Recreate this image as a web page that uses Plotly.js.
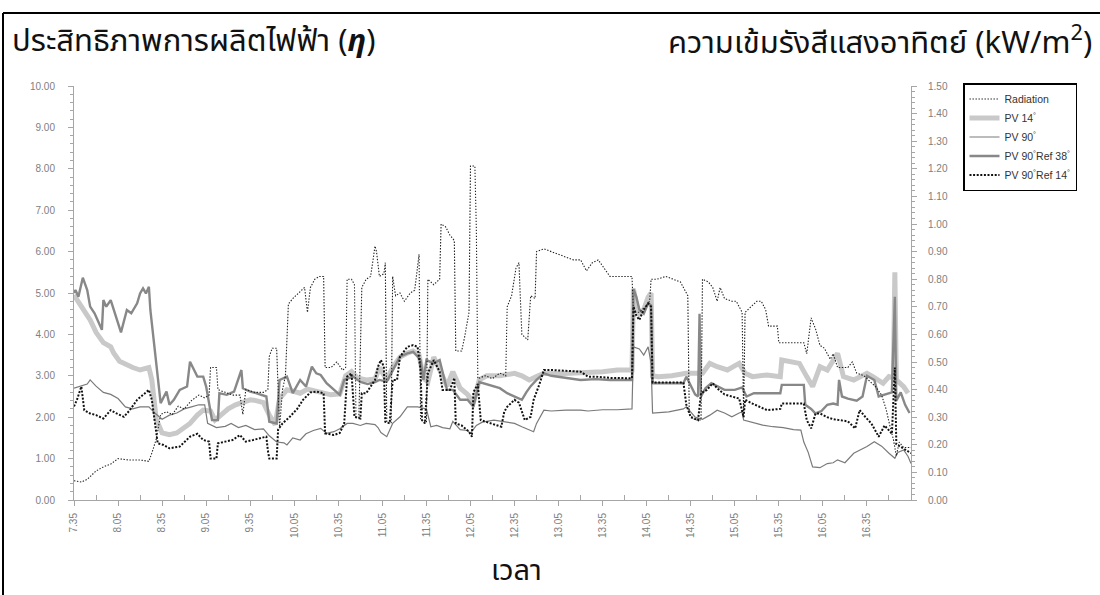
<!DOCTYPE html>
<html><head><meta charset="utf-8">
<script src="https://cdn.plot.ly/plotly-3.0.1.min.js"></script>
<style>html,body{margin:0;padding:0;background:#fff;} #chart{width:1100px;height:595px;}</style>
</head><body><div id="chart"></div>
<script>
// ---- tick labels (time of day) ----
const timeTicks = ['7.35','8.05','8.35','9.05','9.35','10.05','10.35','11.05','11.35','12.05','12.35','13.05','13.35','14.05','14.35','15.05','15.35','16.05','16.35'];

// ---- series: [time, value] ----
const radiation = [ // kW/m2 (right axis)
['7:35',0.07],['7:40',0.065],['7:44',0.075],['7:50',0.105],['7:55',0.12],['8:00',0.13],['8:05',0.15],['8:12',0.145],['8:20',0.145],['8:26',0.14],['8:28',0.17],['8:31',0.22],['8:34',0.31],['8:38',0.32],['8:42',0.31],['8:46',0.34],['8:50',0.33],['8:55',0.36],['9:00',0.38],['9:04',0.37],['9:07',0.38],['9:08',0.48],['9:12',0.48],['9:13',0.40],['9:18',0.39],['9:23',0.38],['9:28',0.38],['9:30',0.31],['9:32',0.40],['9:38',0.39],['9:44',0.39],['9:47',0.40],['9:48',0.52],['9:50',0.55],['9:53',0.55],['9:54',0.40],['9:55',0.26],['9:57',0.40],['9:59',0.45],['10:01',0.71],['10:04',0.73],['10:08',0.75],['10:12',0.77],['10:14',0.68],['10:16',0.77],['10:19',0.80],['10:22',0.81],['10:25',0.81],['10:26',0.48],['10:30',0.48],['10:34',0.50],['10:38',0.47],['10:40',0.48],['10:41',0.80],['10:44',0.80],['10:46',0.78],['10:47',0.30],['10:49',0.30],['10:51',0.77],['10:54',0.80],['10:57',0.81],['11:00',0.92],['11:01',0.90],['11:03',0.81],['11:06',0.82],['11:07',0.86],['11:08',0.28],['11:11',0.28],['11:12',0.81],['11:14',0.74],['11:17',0.75],['11:20',0.72],['11:24',0.75],['11:27',0.76],['11:30',0.89],['11:31',0.29],['11:35',0.28],['11:36',0.80],['11:40',0.78],['11:44',0.80],['11:45',1.00],['11:48',0.99],['11:51',0.96],['11:54',0.94],['11:55',0.54],['11:59',0.54],['12:01',0.59],['12:04',0.68],['12:05',1.21],['12:08',1.21],['12:09',0.98],['12:10',0.44],['12:15',0.45],['12:20',0.44],['12:25',0.46],['12:29',0.45],['12:30',0.70],['12:33',0.74],['12:36',0.84],['12:38',0.86],['12:40',0.60],['12:44',0.58],['12:46',0.74],['12:49',0.73],['12:50',0.90],['12:55',0.91],['13:00',0.90],['13:05',0.89],['13:10',0.88],['13:15',0.87],['13:20',0.87],['13:24',0.83],['13:28',0.86],['13:32',0.87],['13:36',0.84],['13:40',0.81],['13:45',0.81],['13:50',0.81],['13:55',0.81],['13:56',0.68],['14:00',0.68],['14:04',0.70],['14:07',0.72],['14:08',0.80],['14:12',0.80],['14:18',0.81],['14:23',0.80],['14:28',0.79],['14:31',0.76],['14:33',0.74],['14:34',0.31],['14:38',0.29],['14:42',0.29],['14:43',0.80],['14:47',0.79],['14:50',0.77],['14:53',0.72],['14:55',0.77],['14:58',0.73],['15:03',0.72],['15:06',0.72],['15:10',0.68],['15:11',0.31],['15:12',0.68],['15:16',0.70],['15:20',0.72],['15:23',0.72],['15:26',0.69],['15:28',0.63],['15:34',0.63],['15:35',0.57],['15:52',0.57],['15:54',0.53],['15:57',0.66],['16:00',0.62],['16:03',0.56],['16:06',0.55],['16:10',0.51],['16:12',0.53],['16:15',0.48],['16:22',0.48],['16:25',0.50],['16:28',0.46],['16:33',0.45],['16:37',0.43],['16:41',0.41],['16:45',0.38],['16:48',0.33],['16:51',0.26],['16:53',0.22],['16:55',0.16],['16:57',0.21],['17:00',0.19],['17:05',0.19]
];
const pv14 = [
['7:35',4.95],['7:38',4.8],['7:41',4.6],['7:46',4.35],['7:50',4.05],['7:55',3.8],['8:00',3.7],['8:02',3.55],['8:06',3.35],['8:11',3.25],['8:15',3.2],['8:20',3.14],['8:26',3.2],['8:28',2.9],['8:31',1.95],['8:35',1.62],['8:40',1.58],['8:45',1.62],['8:49',1.73],['8:54',1.85],['8:59',2.05],['9:03',2.17],['9:08',2.15],['9:11',1.93],['9:15',2.05],['9:20',2.2],['9:25',2.3],['9:30',2.37],['9:35',2.42],['9:39',2.4],['9:44',2.35],['9:48',2.05],['9:52',1.82],['9:55',2.45],['10:00',2.66],['10:05',2.62],['10:09',2.58],['10:14',2.68],['10:20',2.62],['10:25',2.58],['10:30',2.54],['10:36',2.56],['10:40',3.0],['10:44',3.1],['10:48',2.95],['10:54',2.9],['11:00',2.92],['11:03',3.2],['11:08',2.9],['11:12',3.2],['11:17',3.45],['11:22',3.55],['11:26',3.6],['11:30',3.5],['11:33',2.95],['11:36',2.85],['11:40',3.45],['11:44',3.15],['11:49',2.75],['11:53',3.1],['11:58',2.7],['12:03',2.55],['12:07',2.35],['12:11',2.9],['12:16',3.0],['12:25',3.0],['12:30',3.02],['12:35',3.06],['12:40',3.0],['12:45',2.9],['12:50',2.98],['12:55',3.06],['13:05',3.05],['13:20',3.06],['13:35',3.1],['13:45',3.14],['13:55',3.14],['13:56',5.1],['13:58',4.7],['14:00',4.5],['14:03',4.6],['14:06',4.9],['14:08',5.0],['14:09',3.0],['14:13',2.98],['14:22',3.0],['14:32',3.06],['14:43',3.06],['14:48',3.3],['14:53',3.22],['15:00',3.14],['15:04',3.22],['15:08',3.3],['15:12',3.06],['15:17',2.98],['15:27',3.02],['15:36',2.98],['15:37',3.38],['15:49',3.3],['15:54',2.98],['15:58',2.74],['16:03',3.22],['16:08',3.14],['16:15',3.54],['16:19',2.98],['16:26',2.9],['16:30',2.98],['16:35',3.06],['16:39',2.98],['16:46',2.82],['16:50',2.98],['16:53',2.95],['16:54',5.5],['16:55',2.9],['17:00',2.74],['17:03',2.58]
];
const pv90 = [
['7:35',2.7],['7:40',2.75],['7:44',2.8],['7:46',2.9],['7:50',2.75],['7:55',2.6],['8:00',2.55],['8:05',2.45],['8:10',2.25],['8:15',2.2],['8:20',2.25],['8:26',2.25],['8:30',2.1],['8:35',1.95],['8:40',2.05],['8:45',2.1],['8:50',2.2],['8:55',2.25],['9:00',2.3],['9:04',2.3],['9:06',1.85],['9:12',1.75],['9:18',1.78],['9:22',1.85],['9:27',1.75],['9:32',1.8],['9:38',1.7],['9:44',1.72],['9:48',1.55],['9:53',1.4],['9:58',1.38],['10:00',1.33],['10:04',1.5],['10:09',1.45],['10:13',1.6],['10:18',1.68],['10:23',1.73],['10:27',1.61],['10:32',1.65],['10:36',1.72],['10:41',1.85],['10:45',1.85],['10:50',1.8],['10:54',1.85],['11:00',1.82],['11:02',1.75],['11:04',1.63],['11:08',1.53],['11:12',1.85],['11:17',2.01],['11:22',2.25],['11:29',2.25],['11:35',2.2],['11:38',1.77],['11:42',1.8],['11:46',1.75],['11:51',1.72],['11:53',1.9],['11:58',1.7],['12:03',1.68],['12:05',1.61],['12:09',1.8],['12:13',1.88],['12:21',1.93],['12:30',1.88],['12:35',1.85],['12:40',1.77],['12:45',1.69],['12:48',1.65],['12:50',1.85],['12:55',2.17],['13:00',2.15],['13:10',2.17],['13:20',2.17],['13:25',2.15],['13:35',2.18],['13:45',2.18],['13:55',2.2],['13:56',3.7],['14:00',3.65],['14:03',3.5],['14:06',3.7],['14:08',3.3],['14:09',2.1],['14:20',2.13],['14:30',2.2],['14:32',2.25],['14:38',2.0],['14:43',1.95],['14:48',2.05],['14:53',2.17],['14:58',2.1],['15:03',2.01],['15:08',2.1],['15:10',2.13],['15:11',1.93],['15:16',1.88],['15:24',1.81],['15:31',1.77],['15:38',1.75],['15:45',1.7],['15:50',1.69],['15:52',1.4],['15:55',1.15],['15:58',0.8],['16:03',0.78],['16:08',0.88],['16:12',0.9],['16:15',0.97],['16:20',0.9],['16:26',1.13],['16:30',1.2],['16:35',1.29],['16:40',1.41],['16:45',1.3],['16:50',1.13],['16:54',1.01],['16:56',1.15],['17:00',1.21],['17:03',1.05],['17:05',0.88]
];
const pv90ref38 = [
['7:35',5.0],['7:36',5.07],['7:38',4.91],['7:41',5.37],['7:44',5.07],['7:46',4.67],['7:49',4.51],['7:54',4.11],['7:55',4.83],['7:57',4.67],['8:00',4.83],['8:02',4.59],['8:07',4.05],['8:11',4.59],['8:14',4.51],['8:18',4.75],['8:20',4.99],['8:22',5.11],['8:24',4.99],['8:26',5.15],['8:27',4.59],['8:34',2.34],['8:38',2.62],['8:40',2.3],['8:43',2.42],['8:47',2.66],['8:52',2.74],['8:54',3.34],['8:59',2.98],['9:03',2.98],['9:05',2.74],['9:09',1.93],['9:13',1.93],['9:14',2.58],['9:19',2.54],['9:24',2.62],['9:29',3.14],['9:30',2.7],['9:35',2.62],['9:39',2.58],['9:46',2.5],['9:48',1.89],['9:53',1.85],['9:55',2.9],['10:00',2.98],['10:04',2.58],['10:09',2.9],['10:13',2.74],['10:17',3.22],['10:20',3.06],['10:23',3.02],['10:27',2.82],['10:32',2.66],['10:36',2.54],['10:39',2.9],['10:45',2.98],['10:50',2.85],['10:55',2.8],['11:00',2.85],['11:03',2.9],['11:08',2.86],['11:12',3.14],['11:17',3.46],['11:22',3.54],['11:26',3.58],['11:31',3.38],['11:33',2.9],['11:35',3.38],['11:40',3.3],['11:44',3.38],['11:49',2.66],['11:53',2.66],['11:58',2.42],['12:03',2.42],['12:07',2.25],['12:11',2.85],['12:16',2.8],['12:21',2.74],['12:25',2.7],['12:30',2.58],['12:35',2.5],['12:40',2.42],['12:43',2.6],['12:46',2.75],['12:50',2.9],['12:55',3.06],['13:00',3.0],['13:10',2.95],['13:20',2.9],['13:30',2.92],['13:40',2.9],['13:55',2.9],['13:56',5.1],['13:58',4.9],['14:00',4.6],['14:03',4.5],['14:06',4.75],['14:08',4.7],['14:09',2.82],['14:20',2.82],['14:30',2.82],['14:32',2.98],['14:38',2.55],['14:40',2.5],['14:41',4.5],['14:42',2.5],['14:45',2.7],['14:49',2.82],['14:53',2.75],['14:58',2.66],['15:05',2.66],['15:10',2.72],['15:13',2.5],['15:18',2.58],['15:25',2.58],['15:30',2.58],['15:36',2.58],['15:37',2.78],['15:52',2.78],['15:53',2.3],['15:57',2.2],['16:00',2.09],['16:04',2.15],['16:08',2.3],['16:12',2.33],['16:15',2.3],['16:16',2.9],['16:18',2.5],['16:22',2.45],['16:28',2.4],['16:32',2.5],['16:35',3.0],['16:40',2.9],['16:43',2.5],['16:47',2.55],['16:52',2.6],['16:54',4.91],['16:55',2.4],['16:58',2.6],['17:01',2.3],['17:04',2.1]
];
const pv90ref14 = [
['7:35',2.26],['7:37',2.42],['7:40',2.74],['7:42',2.17],['7:46',2.09],['7:50',2.05],['7:55',1.97],['8:00',2.17],['8:04',2.09],['8:09',2.01],['8:13',2.17],['8:18',2.42],['8:22',2.54],['8:26',2.66],['8:28',2.42],['8:32',1.37],['8:36',1.33],['8:40',1.25],['8:47',1.29],['8:54',1.53],['8:59',1.6],['9:03',1.45],['9:07',1.41],['9:08',1.0],['9:12',1.0],['9:13',1.37],['9:18',1.41],['9:23',1.45],['9:28',1.57],['9:32',1.41],['9:37',1.45],['9:42',1.5],['9:46',1.53],['9:47',1.2],['9:48',1.0],['9:53',1.0],['9:54',1.7],['9:57',1.85],['10:02',2.01],['10:07',2.2],['10:11',2.42],['10:16',2.6],['10:20',2.62],['10:25',2.58],['10:26',1.61],['10:32',1.57],['10:36',1.62],['10:39',1.85],['10:41',2.98],['10:44',3.06],['10:46',2.01],['10:50',1.97],['10:51',2.58],['10:54',2.58],['11:00',2.9],['11:02',3.22],['11:04',3.38],['11:06',3.22],['11:07',1.89],['11:10',1.85],['11:12',2.9],['11:15',2.9],['11:17',3.46],['11:22',3.7],['11:26',3.74],['11:29',3.7],['11:31',3.14],['11:32',1.93],['11:34',1.85],['11:36',3.06],['11:40',3.38],['11:44',3.1],['11:46',2.66],['11:51',2.66],['11:54',2.95],['11:55',1.85],['11:59',1.8],['12:04',1.65],['12:06',1.53],['12:07',2.6],['12:10',2.8],['12:12',1.93],['12:16',1.88],['12:21',1.82],['12:26',1.77],['12:28',2.13],['12:30',2.25],['12:35',2.42],['12:38',2.35],['12:42',1.93],['12:46',2.01],['12:48',2.42],['12:52',2.8],['12:55',3.14],['13:00',3.14],['13:10',3.12],['13:20',3.1],['13:25',2.98],['13:30',2.98],['13:40',2.95],['13:55',2.94],['13:56',4.67],['13:58',4.45],['14:00',4.35],['14:03',4.6],['14:06',4.75],['14:08',4.67],['14:09',2.84],['14:20',2.84],['14:30',2.84],['14:32',2.3],['14:35',2.0],['14:40',1.93],['14:42',2.58],['14:46',2.66],['14:50',2.82],['14:53',2.7],['14:58',2.55],['15:03',2.5],['15:08',2.45],['15:11',2.0],['15:12',2.42],['15:17',2.33],['15:22',2.25],['15:27',2.17],['15:36',2.2],['15:37',2.33],['15:52',2.33],['15:54',1.93],['15:57',1.73],['16:00',2.09],['16:03',2.09],['16:08',2.0],['16:12',1.95],['16:17',1.93],['16:22',1.9],['16:27',1.73],['16:30',2.17],['16:34',2.0],['16:38',1.85],['16:43',1.53],['16:47',1.8],['16:52',1.6],['16:54',3.2],['16:55',1.35],['17:00',1.25],['17:05',1.13]
];

// ---- helpers ----
const toMin = s => { const p = s.split(/[:.]/).map(Number); return p[0]*60 + p[1]; };
const xs = d => d.map(p => toMin(p[0]));
const ys = d => d.map(p => p[1]);
const tickVals = timeTicks.map(toMin);
const minorVals = tickVals.map(v => v + 15);

const traces = [
  {x: xs(pv14), y: ys(pv14), name: 'PV 14<sup>°</sup>', mode: 'lines', line: {color: '#c9c9c9', width: 5}, legendrank: 2},
  {x: xs(pv90ref38), y: ys(pv90ref38), name: 'PV 90<sup>°</sup>Ref 38<sup>°</sup>', mode: 'lines', line: {color: '#888888', width: 2.4}, legendrank: 4},
  {x: xs(pv90), y: ys(pv90), name: 'PV 90<sup>°</sup>', mode: 'lines', line: {color: '#7a7a7a', width: 1.2}, legendrank: 3},
  {x: xs(pv90ref14), y: ys(pv90ref14), name: 'PV 90<sup>°</sup>Ref 14<sup>°</sup>', mode: 'lines', line: {color: '#111111', width: 2, dash: '2px,1.6px'}, legendrank: 5},
  {x: xs(radiation), y: ys(radiation), name: 'Radiation', mode: 'lines', yaxis: 'y2', line: {color: '#222222', width: 1.1, dash: '1.4px,1.6px'}, legendrank: 1}
];

// plot area in pixels: left 74, right 911, top 86, bottom 500
const L = 74, R = 911, TOP = 86, BOT = 500, W = 1100, H = 595;
const px = x => (x - L) / (R - L);
const py = y => (BOT - y) / (BOT - TOP);

const tickFont = {family: 'Liberation Sans, Arial, sans-serif', size: 10, color: '#808080'};
const thaiFont = {family: 'Noto Sans Thai, Noto Sans, DejaVu Sans, sans-serif', size: 31, color: '#111'};

const layout = {
  width: W, height: H,
  margin: {l: L, r: W - R, t: TOP, b: H - BOT, pad: 0},
  paper_bgcolor: '#fff', plot_bgcolor: '#fff',
  showlegend: true,
  legend: {x: px(963), y: py(83), xanchor: 'left', yanchor: 'top', bgcolor: '#fff', bordercolor: '#000', borderwidth: 1.5,
           font: {family: 'Liberation Sans, Arial, sans-serif', size: 10.5, color: '#333'}, itemwidth: 30, tracegroupgap: 0},
  xaxis: {range: [toMin('7:35'), toMin('17:05')], tickmode: 'array', tickvals: tickVals, ticktext: timeTicks, tickangle: -90,
          tickfont: tickFont, showgrid: false, zeroline: false, showline: true, linecolor: '#a6a6a6', linewidth: 1,
          ticks: 'outside', ticklen: 5, tickcolor: '#a6a6a6', ticklabelstandoff: 3,
          minor: {tickmode: 'array', tickvals: minorVals, ticks: 'inside', ticklen: 5, tickcolor: '#a6a6a6', showgrid: false}},
  yaxis: {range: [0, 10], dtick: 1, tickformat: '.2f', tickfont: tickFont, showgrid: false, zeroline: false,
          showline: true, linecolor: '#a6a6a6', linewidth: 1, ticks: 'outside', ticklen: 5, tickcolor: '#a6a6a6', ticklabelstandoff: 11,
          minor: {dtick: 0.2, ticks: 'outside', ticklen: 3, tickcolor: '#a6a6a6', showgrid: false}},
  yaxis2: {range: [0, 1.5], dtick: 0.1, tickformat: '.2f', overlaying: 'y', side: 'right', tickfont: tickFont, showgrid: false,
           zeroline: false, showline: true, linecolor: '#a6a6a6', linewidth: 1, ticks: 'outside', ticklen: 5, tickcolor: '#a6a6a6', ticklabelstandoff: 9,
           minor: {dtick: 0.02, ticks: 'outside', ticklen: 3, tickcolor: '#a6a6a6', showgrid: false}},
  annotations: [
    {text: 'ประสิทธิภาพการผลิตไฟฟ้า (<b><i>η</i></b>)', xref: 'paper', yref: 'paper', x: px(10), y: py(42), xanchor: 'left', yanchor: 'middle', showarrow: false, font: thaiFont},
    {text: 'ความเข้มรังสีแสงอาทิตย์ (kW/m<sup>2</sup>)', xref: 'paper', yref: 'paper', x: px(1094), y: py(42), xanchor: 'right', yanchor: 'middle', showarrow: false, font: thaiFont},
    {text: 'เวลา', xref: 'paper', yref: 'paper', x: px(516), y: py(571), xanchor: 'center', yanchor: 'middle', showarrow: false, font: Object.assign({}, thaiFont, {size: 29})}
  ],
  shapes: [
    {type: 'line', xref: 'paper', yref: 'paper', x0: px(3), x1: px(1100), y0: py(13), y1: py(13), line: {color: '#000', width: 2}},
    {type: 'line', xref: 'paper', yref: 'paper', x0: px(3), x1: px(3), y0: py(13), y1: py(595), line: {color: '#000', width: 2}}
  ]
};

Plotly.newPlot('chart', traces, layout, {displayModeBar: false, staticPlot: true});
</script></body></html>
